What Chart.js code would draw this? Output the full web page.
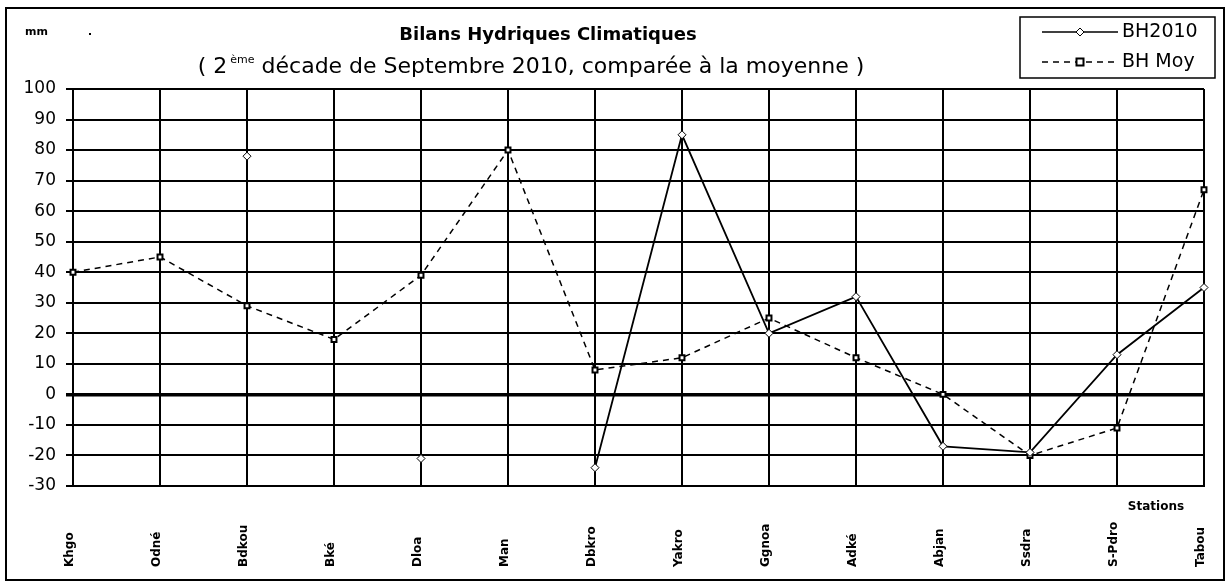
<!DOCTYPE html>
<html>
<head>
<meta charset="utf-8">
<script src="https://cdn.jsdelivr.net/npm/chart.js@4/dist/chart.umd.min.js"></script>
<style>
  body { margin: 0; background: #fff; }
</style>
</head>
<body>
<canvas id="bhChart" width="1231" height="581"></canvas>
<script>
const stations = ["Khgo", "Odné", "Bdkou", "Bké", "Dloa", "Man", "Dbkro", "Yakro", "Ggnoa", "Adké", "Abjan", "Ssdra", "S-Pdro", "Tabou"];
const bh2010 = [null, null, 78, null, -21, null, -24, 85, 20, 32, -17, -19, 13, 35];
const bhMoy = [40, 45, 29, 18, 39, 80, 8, 12, 25, 12, 0, -20, -11, 67];
const yMin = -30;
const yMax = 100;
const yStep = 10;

// titles, legend box, frame and rotated station names
const decor = {
    id: "decor",
    afterDraw(chart) {
        const c = chart.ctx;
        const x = chart.scales.x;
        c.save();
        c.fillStyle = "#000";
        c.strokeStyle = "#000";

        c.lineWidth = 2;
        c.strokeRect(6, 8, 1218, 572);

        c.font = "bold 11px 'DejaVu Sans'";
        c.textBaseline = "middle";
        c.textAlign = "left";
        c.fillText("mm", 25, 32);
        c.fillRect(89, 33, 2, 2);

        c.font = "bold 18px 'DejaVu Sans'";
        c.textAlign = "center";
        c.fillText("Bilans Hydriques Climatiques", 548, 35);

        // subtitle with superscript
        const big = "22px 'DejaVu Sans'";
        const small = "11px 'DejaVu Sans'";
        const p1 = "( 2 ";
        const sup = "ème";
        const p2 = " décade de Septembre 2010, comparée à la moyenne )";
        c.font = big;
        const w1 = c.measureText(p1).width;
        const w3 = c.measureText(p2).width;
        c.font = small;
        const w2 = c.measureText(sup).width;
        let sx = 533 - (w1 + w2 + w3) / 2;
        c.textAlign = "left";
        c.font = big;
        c.fillText(p1, sx, 67);
        c.font = small;
        c.fillText(sup, sx + w1 - 4, 60);
        c.font = big;
        c.fillText(p2, sx + w1 + w2 - 4, 67);

        // legend
        c.lineWidth = 1.5;
        c.strokeRect(1020, 17, 195, 61);
        c.font = "19px 'DejaVu Sans'";
        const rows = [32, 62];
        chart.data.datasets.forEach((ds, i) => {
            const ly = rows[i];
            c.save();
            c.lineWidth = 1.5;
            c.setLineDash(ds.borderDash || []);
            c.beginPath();
            c.moveTo(1042, ly);
            c.lineTo(1118, ly);
            c.stroke();
            c.restore();
            c.save();
            c.fillStyle = "#fff";
            c.lineWidth = ds.pointBorderWidth;
            c.beginPath();
            const r = ds.pointRadius;
            if (ds.pointStyle === "rectRot") {
                c.moveTo(1080, ly - r);
                c.lineTo(1080 + r, ly);
                c.lineTo(1080, ly + r);
                c.lineTo(1080 - r, ly);
                c.closePath();
            } else {
                c.rect(1080 - r, ly - r, 2 * r, 2 * r);
            }
            c.fill();
            c.stroke();
            c.restore();
            c.fillText(ds.label, 1122, ly);
        });

        // station names
        c.font = "bold 12px 'DejaVu Sans'";
        c.textAlign = "left";
        c.textBaseline = "middle";
        stations.forEach((s, i) => {
            const px = x.getPixelForValue(i) - 3;
            c.save();
            c.translate(px, 567);
            c.rotate(-Math.PI / 2);
            c.fillText(s, 0, 0);
            c.restore();
        });
        c.textAlign = "center";
        c.fillText("Stations", 1156, 507);
        c.restore();
    }
};

new Chart(document.getElementById("bhChart").getContext("2d"), {
    type: "line",
    data: {
        labels: stations,
        datasets: [
            {
                label: "BH2010",
                data: bh2010,
                borderColor: "#000",
                borderWidth: 1.8,
                pointStyle: "rectRot",
                pointRadius: 4,
                pointBorderWidth: 1,
                pointBackgroundColor: "#fff",
                pointBorderColor: "#000",
                tension: 0
            },
            {
                label: "BH Moy",
                data: bhMoy,
                borderColor: "#000",
                borderWidth: 1.5,
                borderDash: [6, 5],
                pointStyle: "rect",
                pointRadius: 3.5,
                pointBorderWidth: 2,
                pointBackgroundColor: "#fff",
                pointBorderColor: "#000",
                tension: 0
            }
        ]
    },
    options: {
        responsive: false,
        animation: false,
        layout: { padding: { top: 89, left: 0, right: 27, bottom: 95 } },
        plugins: {
            legend: { display: false },
            title: { display: false },
            tooltip: { enabled: false }
        },
        scales: {
            x: {
                offset: false,
                grid: { color: "#000", lineWidth: 2, drawTicks: false },
                border: { color: "#000", width: 2 },
                ticks: { display: false }
            },
            y: {
                min: yMin,
                max: yMax,
                afterFit: (scale) => { scale.width = 73; },
                grid: {
                    color: "#000",
                    lineWidth: (ctx) => (ctx.tick && ctx.tick.value === 0 ? 3.5 : 2),
                    tickLength: 7
                },
                border: { color: "#000", width: 2 },
                ticks: {
                    stepSize: yStep,
                    color: "#000",
                    padding: 10,
                    font: { family: "'DejaVu Sans'", size: 17 }
                }
            }
        }
    },
    plugins: [decor]
});
</script>
</body>
</html>
